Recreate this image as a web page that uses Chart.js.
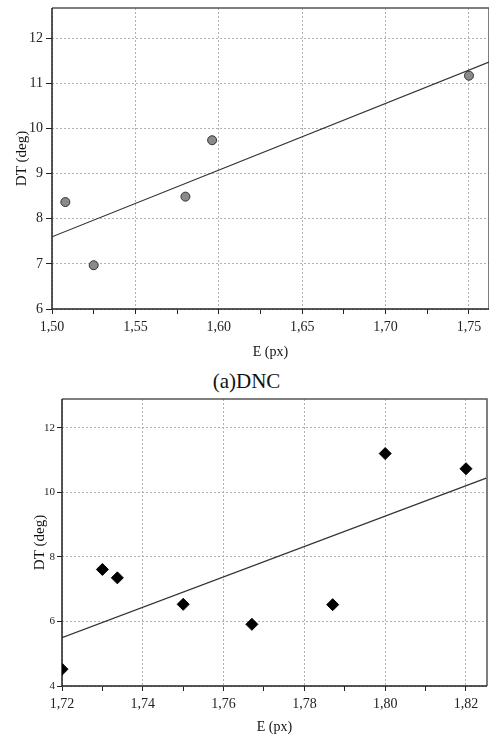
<!DOCTYPE html>
<html>
<head>
<meta charset="utf-8">
<script src="https://cdn.jsdelivr.net/npm/chart.js@4"></script>
<style>
  html, body { margin: 0; padding: 0; background: #fff; width: 489px; height: 734px; overflow: hidden; }
  canvas { position: absolute; left: 0; }
  #c1 { top: 0; }
  #c2 { top: 388px; }
  #cap { position: absolute; left: 2px; top: 369px; width: 489px; text-align: center;
         font: 21px "Liberation Serif", "Times New Roman", serif; line-height: 24px; color: #111; }
</style>
</head>
<body>
<canvas id="c1" width="489" height="362"></canvas>
<div id="cap">(a)DNC</div>
<canvas id="c2" width="489" height="348"></canvas>
<script>
const serif = '"Liberation Serif", "Times New Roman", serif';

// (a) DNC
const dncE = [1.508, 1.525, 1.580, 1.596, 1.750];
const dncDT = [8.37, 6.97, 8.49, 9.74, 11.17];
const dncFitE = [1.50, 1.762];
const dncFitDT = [7.60, 11.47];
const dncXMajor = [1.50, 1.55, 1.60, 1.65, 1.70, 1.75];
const dncXMinor = [1.525, 1.575, 1.625, 1.675, 1.725];
const dncYTicks = [6, 7, 8, 9, 10, 11, 12];

// second plot
const e2 = [1.720, 1.730, 1.7337, 1.750, 1.767, 1.787, 1.800, 1.820];
const dt2 = [4.52, 7.61, 7.35, 6.53, 5.91, 6.52, 11.20, 10.73];
const fit2E = [1.72, 1.825];
const fit2DT = [5.50, 10.44];
const x2Major = [1.72, 1.74, 1.76, 1.78, 1.80, 1.82];
const x2Minor = [1.73, 1.75, 1.77, 1.79, 1.81];
const y2Ticks = [4, 6, 8, 10, 12];

const toPts = (xs, ys) => xs.map((x, i) => ({ x: x, y: ys[i] }));
const fmt = v => v.toFixed(2).replace('.', ',');

// frame round the plot area: dark axes left/bottom, greyer top/right
const framePlugin = {
    id: 'frame',
    beforeDatasetsDraw: (chart) => {
        const { ctx, chartArea: { left, top, right, bottom } } = chart;
        ctx.save();
        ctx.lineWidth = 1.5;
        ctx.strokeStyle = '#555';
        ctx.beginPath();
        ctx.moveTo(left, top);
        ctx.lineTo(right, top);
        ctx.lineTo(right, bottom);
        ctx.stroke();
        ctx.strokeStyle = '#222';
        ctx.beginPath();
        ctx.moveTo(left, top);
        ctx.lineTo(left, bottom);
        ctx.lineTo(right, bottom);
        ctx.stroke();
        ctx.restore();
    }
};

function makeChart(id, cfg) {
    const xTicks = cfg.xMajor.concat(cfg.xMinor).sort((a, b) => a - b);
    return new Chart(document.getElementById(id), {
        type: 'scatter',
        data: {
            datasets: [
                {
                    data: cfg.pts,
                    pointStyle: cfg.pointStyle,
                    pointRadius: cfg.radius,
                    backgroundColor: cfg.fill,
                    borderColor: cfg.edge,
                    borderWidth: 1
                },
                {
                    data: cfg.fit,
                    showLine: true,
                    pointRadius: 0,
                    borderColor: '#333',
                    borderWidth: 1.2,
                    fill: false
                }
            ]
        },
        options: {
            responsive: false,
            animation: false,
            layout: { padding: cfg.padding, autoPadding: false },
            plugins: { legend: { display: false }, tooltip: { enabled: false } },
            scales: {
                x: {
                    type: 'linear',
                    min: cfg.xMin,
                    max: cfg.xMax,
                    afterBuildTicks: (s) => { s.ticks = xTicks.map(v => ({ value: v })); },
                    afterFit: (s) => { s.height = cfg.xHeight; s.paddingLeft = 0; s.paddingRight = 0; },
                    ticks: {
                        autoSkip: false,
                        maxRotation: 0,
                        padding: 5,
                        color: '#222',
                        font: { family: serif, size: 14 },
                        callback: (v) => cfg.xMajor.includes(v) ? fmt(v) : ''
                    },
                    grid: {
                        color: (c) => (c.tick && cfg.xMajor.includes(c.tick.value)) ? '#b0b0b0' : 'rgba(0,0,0,0)',
                        tickColor: '#222',
                        tickLength: 5,
                        lineWidth: 1
                    },
                    border: { display: false, dash: [2, 2] },
                    title: {
                        display: true,
                        text: 'E (px)',
                        color: '#111',
                        font: { family: serif, size: 14 },
                        padding: { top: 0, bottom: cfg.xTitlePad }
                    }
                },
                y: {
                    type: 'linear',
                    min: cfg.yMin,
                    max: cfg.yMax,
                    afterBuildTicks: (s) => { s.ticks = cfg.yTicks.map(v => ({ value: v })); },
                    afterFit: (s) => { s.width = cfg.yWidth; s.paddingTop = 0; s.paddingBottom = 0; },
                    ticks: {
                        autoSkip: false,
                        padding: cfg.yTickPad,
                        color: '#222',
                        font: { family: serif, size: cfg.yFont },
                        callback: (v) => String(v)
                    },
                    grid: {
                        color: '#b0b0b0',
                        tickColor: '#222',
                        tickLength: cfg.yTickLen,
                        lineWidth: 1
                    },
                    border: { display: false, dash: [2, 2] },
                    title: {
                        display: true,
                        text: 'DT (deg)',
                        color: '#111',
                        font: { family: serif, size: 15 },
                        padding: { top: cfg.yTitlePad, bottom: 0 }
                    }
                }
            }
        },
        plugins: [framePlugin]
    });
}

makeChart('c1', {
    pts: toPts(dncE, dncDT),
    fit: toPts(dncFitE, dncFitDT),
    pointStyle: 'circle',
    radius: 4.5,
    fill: '#8a8a8a',
    edge: '#333',
    xMin: 1.50, xMax: 1.762,
    yMin: 6, yMax: 12.67,
    xMajor: dncXMajor, xMinor: dncXMinor, yTicks: dncYTicks,
    padding: { top: 8, right: 0, left: 0, bottom: 0 },
    xHeight: 53, yWidth: 52,
    xTitlePad: 1.6, yTitlePad: 13,
    yFont: 14, yTickLen: 6, yTickPad: 3
});

makeChart('c2', {
    pts: toPts(e2, dt2),
    fit: toPts(fit2E, fit2DT),
    pointStyle: 'rectRot',
    radius: 6,
    fill: '#000',
    edge: '#000',
    xMin: 1.72, xMax: 1.8252,
    yMin: 4, yMax: 12.89,
    xMajor: x2Major, xMinor: x2Minor, yTicks: y2Ticks,
    padding: { top: 11, right: 2, left: 0, bottom: 0 },
    xHeight: 50, yWidth: 62,
    xTitlePad: 0.6, yTitlePad: 31,
    yFont: 11, yTickLen: 5, yTickPad: 2
});
</script>
</body>
</html>
